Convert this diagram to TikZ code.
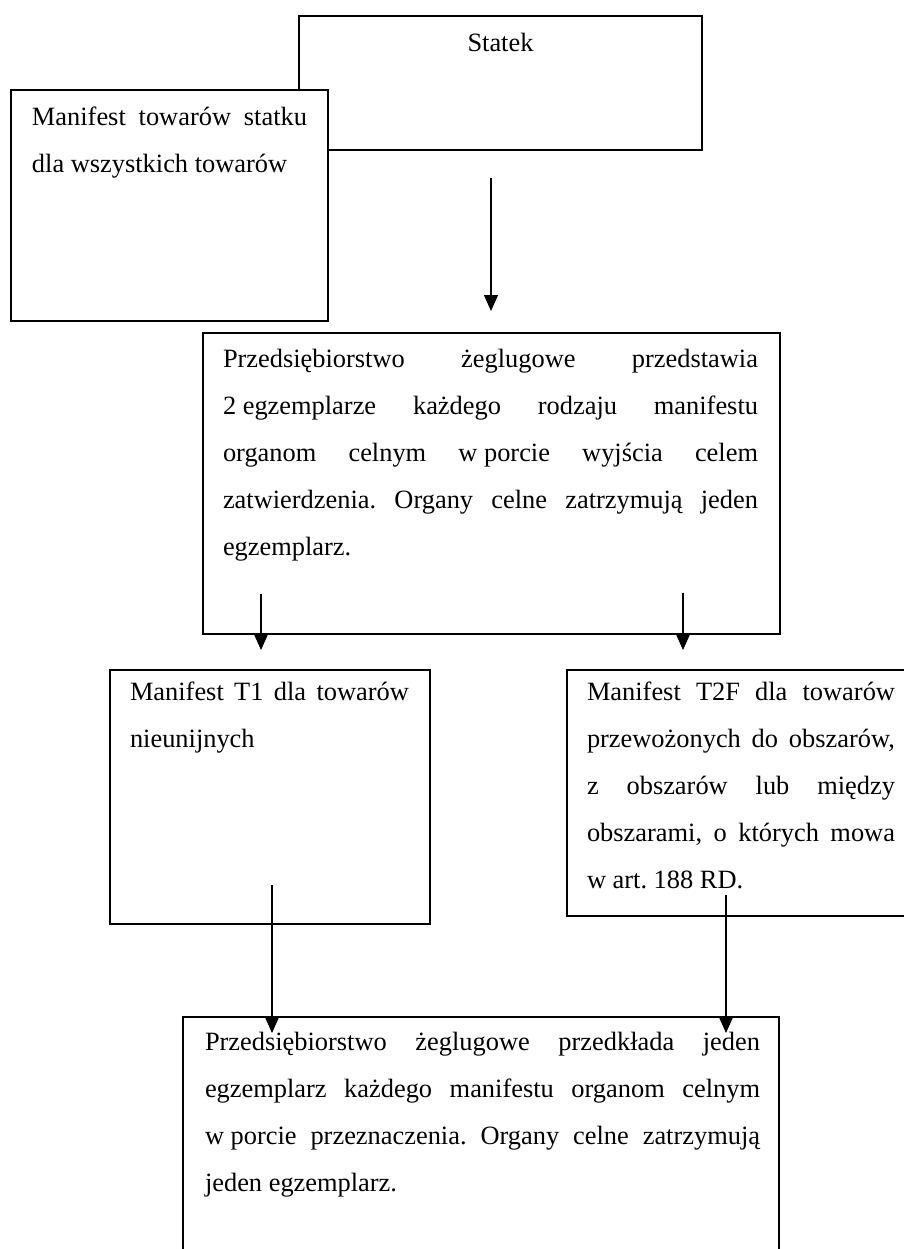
\documentclass[tikz,border=0pt]{standalone}
\usepackage{fontspec}
\setmainfont{Liberation Serif}
\usetikzlibrary{arrows.meta}
\frenchspacing
\newcommand\jline[1]{\makebox[\linewidth][s]{#1}\par}
\newcommand\rline[1]{#1\par}
\newcommand\fxsp{\hspace{0.25em}}
\newcommand\txtblock[2]{\parbox[t]{#1}{\fontsize{13.2pt}{23.5pt}\selectfont\frenchspacing\parindent=0pt\parskip=0pt\lineskiplimit=-30pt #2}}
\begin{document}
\begin{tikzpicture}[x=0.5pt,y=-0.5pt,
  box/.style={draw, line width=0.8pt, inner sep=0pt, outer sep=0pt, anchor=north west, fill=white},
  txt/.style={inner sep=0pt, outer sep=0pt, anchor=base west},
  arr/.style={line width=0.6pt, -{Triangle[length=8pt,width=7pt]}}]
\useasboundingbox (0,0) rectangle (904,1249);
\clip (0,0) rectangle (904,1249);
\fill[white] (0,0) rectangle (904,1249);
% Statek
\node[box, minimum width=201.5pt, minimum height=67pt] (statek) at (299,16) {};
\node[inner sep=0pt, outer sep=0pt, anchor=base] (statektxt) at (500.5,51) {\fontsize{13.2pt}{23.5pt}\selectfont Statek};
% Manifest (drawn over Statek)
\node[box, minimum width=158.5pt, minimum height=115.5pt] (manif) at (11,90) {};
\node[txt] (maniftxt) at (32,125) {\txtblock{137.5pt}{\jline{Manifest towarów statku}\rline{dla wszystkich towarów}}};
% middle box
\node[box, minimum width=288.5pt, minimum height=150.5pt] (mid) at (203,333) {};
\node[txt] (midtxt) at (223,367) {\txtblock{267.5pt}{%
\jline{Przedsiębiorstwo żeglugowe przedstawia}%
\jline{2\fxsp egzemplarze każdego rodzaju manifestu}%
\jline{organom celnym w\fxsp porcie wyjścia celem}%
\jline{zatwierdzenia. Organy celne zatrzymują jeden}%
\rline{egzemplarz.}}};
% T1 box
\node[box, minimum width=160pt, minimum height=127pt] (t1) at (110,670) {};
\node[txt] (t1txt) at (130,700) {\txtblock{139.5pt}{\jline{Manifest T1 dla towarów}\rline{nieunijnych}}};
% T2F box
\node[box, minimum width=180pt, minimum height=123pt] (t2f) at (567,670) {};
\node[txt] (t2ftxt) at (587,700) {\txtblock{154pt}{%
\jline{Manifest T2F dla towarów}%
\jline{przewożonych do obszarów,}%
\jline{z obszarów lub między}%
\jline{obszarami, o których mowa}%
\rline{w\fxsp art. 188 RD.}}};
% bottom box
\node[box, minimum width=298pt, minimum height=130pt] (dest) at (183,1017) {};
\node[txt] (desttxt) at (205,1050) {\txtblock{277.5pt}{%
\jline{Przedsiębiorstwo żeglugowe przedkłada jeden}%
\jline{egzemplarz każdego manifestu organom celnym}%
\jline{w\fxsp porcie przeznaczenia. Organy celne zatrzymują}%
\rline{jeden egzemplarz.}}};
% arrow coordinates
\coordinate (a1s) at (491,178);
\coordinate (a1e) at (491,311);
\coordinate (a2s) at (261,594);
\coordinate (a2e) at (261,650);
\coordinate (a3s) at (683,593);
\coordinate (a3e) at (683,650);
\coordinate (a4s) at (272,885);
\coordinate (a4e) at (272,1033);
\coordinate (a5s) at (726,895);
\coordinate (a5e) at (726,1033);
\draw[arr] (a1s) -- (a1e);
\draw[arr] (a2s) -- (a2e);
\draw[arr] (a3s) -- (a3e);
\draw[arr] (a4s) -- (a4e);
\draw[arr] (a5s) -- (a5e);
\end{tikzpicture}
\end{document}
